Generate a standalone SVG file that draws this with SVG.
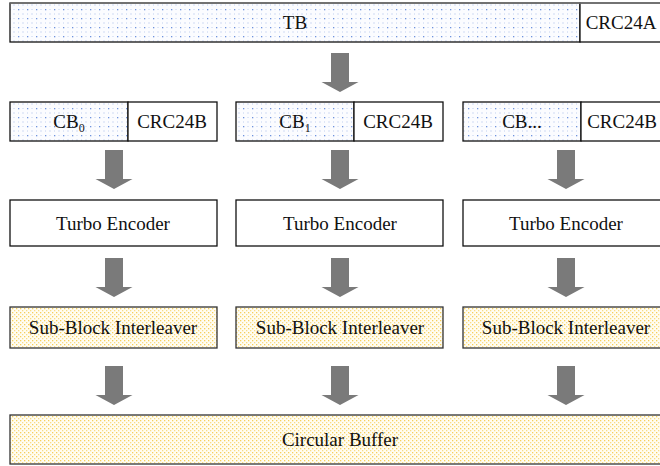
<svg xmlns="http://www.w3.org/2000/svg" width="660" height="466" viewBox="0 0 660 466">
  <defs>
    <!-- light blue dotted fill for data blocks -->
    <pattern id="dotBlue" width="9" height="9" patternUnits="userSpaceOnUse">
      <rect width="9" height="9" fill="#fbfcff"/>
      <rect x="0" y="0" width="1.3" height="1.3" fill="#6f93de"/>
      <rect x="4.5" y="0" width="1" height="1" fill="#c2d1f0"/>
      <rect x="0" y="4.5" width="1" height="1" fill="#c2d1f0"/>
      <rect x="4.5" y="4.5" width="1" height="1" fill="#a3bae8"/>
    </pattern>
    <!-- yellow dotted fill for interleaver / buffer -->
    <pattern id="dotYellow" width="4" height="4" patternUnits="userSpaceOnUse">
      <rect width="4" height="4" fill="#fffdf3"/>
      <rect x="0" y="0" width="1.3" height="1.3" fill="#f7cf5a"/>
      <rect x="2" y="2" width="1.3" height="1.3" fill="#f9dc86"/>
    </pattern>
    <!-- block down-arrow, drawn around (0,0) top-centre -->
    <path id="arrow" d="M-9,0 H9 V29 H18.5 L0,39 L-18.5,29 H-9 Z"/>
  </defs>
  <style>
    .lbl { font-family: "Liberation Serif", "Times New Roman", serif; font-size: 19px; fill: #111; text-anchor: middle; }
    .sub { font-size: 12px; }
    .box { stroke: #111; stroke-width: 1.3; }
    .blue { fill: url(#dotBlue); }
    .yellow { fill: url(#dotYellow); stroke: #333; stroke-width: 1.3; }
    .plain { fill: #fff; }
    .arr { fill: #7a7a7a; }
  </style>

  <!-- transport block with CRC -->
  <g id="tb">
    <rect class="box blue" x="10" y="3" width="570" height="39"/>
    <rect class="box plain" x="580" y="3" width="82" height="39"/>
    <line x1="10" y1="3" x2="662" y2="3" stroke="#777" stroke-width="1.5"/>
    <text class="lbl" x="295" y="29">TB</text>
    <text class="lbl" x="621" y="29">CRC24A</text>
  </g>

  <!-- code blocks -->
  <g id="cb0">
    <rect class="box blue" x="10" y="102" width="118" height="39"/>
    <rect class="box plain" x="128" y="102" width="89" height="39"/>
    <text class="lbl" x="69" y="128">CB<tspan class="sub" dy="4">0</tspan></text>
    <text class="lbl" x="172" y="128">CRC24B</text>
  </g>
  <g id="cb1">
    <rect class="box blue" x="236" y="102" width="118" height="39"/>
    <rect class="box plain" x="354" y="102" width="89" height="39"/>
    <text class="lbl" x="295" y="128">CB<tspan class="sub" dy="4">1</tspan></text>
    <text class="lbl" x="398" y="128">CRC24B</text>
  </g>
  <g id="cbn">
    <rect class="box blue" x="463" y="102" width="118" height="39"/>
    <rect class="box plain" x="581" y="102" width="81" height="39"/>
    <text class="lbl" x="522" y="128">CB...</text>
    <text class="lbl" x="622" y="128">CRC24B</text>
  </g>

  <!-- turbo encoders -->
  <g id="enc0">
    <rect class="box plain" x="10" y="200" width="207" height="46"/>
    <text class="lbl" x="113" y="230">Turbo Encoder</text>
  </g>
  <g id="enc1">
    <rect class="box plain" x="236" y="200" width="207" height="46"/>
    <text class="lbl" x="340" y="230">Turbo Encoder</text>
  </g>
  <g id="enc2">
    <rect class="box plain" x="463" y="200" width="199" height="46"/>
    <text class="lbl" x="566" y="230">Turbo Encoder</text>
  </g>

  <!-- sub-block interleavers -->
  <g id="sbi0">
    <rect class="yellow" x="10" y="307" width="207" height="41"/>
    <text class="lbl" x="113" y="334">Sub-Block Interleaver</text>
  </g>
  <g id="sbi1">
    <rect class="yellow" x="236" y="307" width="207" height="41"/>
    <text class="lbl" x="340" y="334">Sub-Block Interleaver</text>
  </g>
  <g id="sbi2">
    <rect class="yellow" x="463" y="307" width="199" height="41"/>
    <text class="lbl" x="566" y="334">Sub-Block Interleaver</text>
  </g>

  <!-- circular buffer -->
  <g id="cbuf">
    <rect class="yellow" x="10" y="415" width="652" height="49" stroke="#666"/>
    <text class="lbl" x="340" y="446">Circular Buffer</text>
  </g>

  <!-- connectors -->
  <g id="connectors" class="arr">
    <use href="#arrow" x="340" y="53"/>
    <use href="#arrow" x="114" y="150"/>
    <use href="#arrow" x="340" y="150"/>
    <use href="#arrow" x="566" y="150"/>
    <use href="#arrow" x="114" y="258"/>
    <use href="#arrow" x="340" y="258"/>
    <use href="#arrow" x="566" y="258"/>
    <use href="#arrow" x="114" y="366"/>
    <use href="#arrow" x="340" y="366"/>
    <use href="#arrow" x="566" y="366"/>
  </g>
</svg>
